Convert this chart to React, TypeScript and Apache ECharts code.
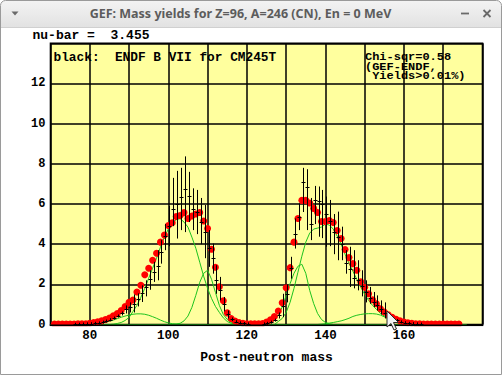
import React, { useEffect, useRef } from "react";
import * as echarts from "echarts";

const windowTitle = "GEF: Mass yields for Z=96, A=246 (CN), En = 0 MeV";
const nuBarText = "nu-bar =  3.455";
const legendText = "black:  ENDF B VII for CM245T";
const chiLines = ["Chi-sqr=0.58", "(GEF-ENDF,", " Yields>0.01%)"];
const xAxisName = "Post-neutron mass";

// GEF calculated post-neutron mass yields (red dots), first mass 71
const gefFirstMass = 71;
const gefYield = [
  0.02, 0.02, 0.02, 0.02, 0.02, 0.02, 0.03, 0.03, 0.04, 0.06,
  0.1, 0.14, 0.18, 0.25, 0.32, 0.43, 0.54, 0.7, 0.9, 1.1,
  1.22, 1.62, 1.95, 2.48, 2.8, 3.2, 3.55, 4.1, 4.45, 4.93,
  5.07, 5.38, 5.43, 5.57, 5.28, 5.4, 5.5, 5.58, 5.15, 4.78,
  3.75, 2.85, 1.88, 1.18, 0.58, 0.3, 0.17, 0.1, 0.06, 0.04,
  0.03, 0.03, 0.03, 0.05, 0.12, 0.23, 0.4, 0.67, 1.08, 1.83,
  2.83, 4.1, 5.28, 6.18, 6.18, 6.05, 5.78, 5.58, 5.13, 5.13,
  5.18, 5.08, 4.68, 4.28, 3.73, 3.33, 3.03, 2.7, 2.13, 1.85,
  1.53, 1.23, 1.03, 0.78, 0.62, 0.48, 0.36, 0.26, 0.18, 0.12,
  0.08, 0.06, 0.04, 0.03, 0.02, 0.02, 0.02, 0.02, 0.02, 0.02,
  0.02, 0.02, 0.02, 0.02,
];

// ENDF/B-VII evaluation (black error bars)
const endfMass = [
  76, 77, 78, 79, 80, 81, 82, 83, 84, 85, 86, 87, 88, 89, 90, 91, 92, 93, 94, 95,
  96, 97, 98, 99, 100, 101, 102, 103, 104, 105, 106, 107, 108, 109, 110, 111, 112, 113, 114, 115,
  116, 117, 118, 119, 120,
  124, 125, 126, 127, 128, 129, 130, 131, 132, 133, 134, 135, 136, 137, 138, 139, 140, 141, 142, 143,
  144, 145, 146, 147, 148, 149, 150, 151, 152, 153, 154, 155, 156, 157, 158, 159, 160, 161, 162, 163, 164,
];
const endfYield = [
  0.01, 0.015, 0.02, 0.03, 0.04, 0.06, 0.08, 0.12, 0.17, 0.24, 0.32, 0.42, 0.55, 0.75, 0.85, 1.0, 1.25, 1.58, 1.85, 2.28,
  2.6, 2.9, 3.6, 4.4, 4.9, 5.73, 6.0, 6.35, 6.73, 6.4, 5.75, 5.6, 5.1, 4.6, 3.8, 3.3, 2.24, 1.7, 1.0, 0.5,
  0.26, 0.14, 0.08, 0.05, 0.03,
  0.03, 0.06, 0.12, 0.22, 0.45, 0.9, 1.5, 2.8, 4.5, 5.35, 7.1, 6.83, 5.0, 6.2, 6.17, 6.0, 5.48, 5.15, 4.6, 4.37,
  4.0, 3.08, 2.75, 2.3, 2.23, 1.9, 1.6, 1.3, 1.1, 0.95, 0.75, 0.55, 0.4, 0.28, 0.2, 0.13, 0.09, 0.06, 0.04, 0.03, 0.02,
];
const endfLow = [
  0.005, 0.01, 0.015, 0.02, 0.03, 0.05, 0.06, 0.1, 0.14, 0.2, 0.27, 0.35, 0.45, 0.55, 0.6, 0.6, 0.9, 1.12, 1.4, 1.73,
  2.12, 2.2, 3.03, 3.7, 3.9, 4.9, 4.28, 4.7, 4.6, 5.1, 4.7, 4.5, 4.0, 3.3, 2.87, 2.53, 1.53, 1.2, 0.65, 0.3,
  0.17, 0.1, 0.06, 0.04, 0.02,
  0.02, 0.05, 0.09, 0.17, 0.3, 0.37, 1.1, 2.28, 3.78, 4.7, 5.6, 4.7, 4.2, 5.0, 4.37, 4.3, 3.87, 3.9, 3.5, 3.2,
  3.2, 2.53, 1.87, 1.8, 1.7, 1.4, 1.1, 1.03, 0.87, 0.7, 0.5, 0.3, 0.28, 0.2, 0.15, 0.1, 0.07, 0.05, 0.03, 0.02, 0.015,
];
const endfHigh = [
  0.015, 0.02, 0.025, 0.04, 0.05, 0.07, 0.1, 0.14, 0.2, 0.28, 0.37, 0.5, 0.65, 0.95, 1.1, 1.5, 1.55, 1.95, 2.2, 2.7,
  3.12, 3.7, 4.2, 5.0, 5.9, 7.3, 7.65, 7.8, 8.37, 7.6, 6.78, 6.7, 6.3, 5.95, 4.7, 4.03, 2.95, 2.37, 1.37, 0.7,
  0.35, 0.18, 0.1, 0.06, 0.04,
  0.04, 0.07, 0.15, 0.27, 0.6, 1.53, 2.0, 3.37, 5.28, 6.03, 7.8, 7.73, 6.3, 6.9, 6.87, 6.7, 6.37, 6.2, 5.5, 5.62,
  4.87, 3.7, 3.87, 3.7, 3.2, 2.7, 2.2, 1.87, 1.62, 1.45, 1.2, 1.1, 0.55, 0.36, 0.25, 0.16, 0.11, 0.07, 0.05, 0.04, 0.025,
];

// GEF fission-mode components (green curves)
const s1LightFirst = 101;
const s1LightYield = [0, 0.02, 0.06, 0.18, 0.42, 0.85, 1.45, 2.1, 2.55, 2.7, 2.25, 1.6, 0.95, 0.5, 0.25, 0.1, 0.03, 0];
const s1HeavyFirst = 124;
const s1HeavyYield = [0, 0.03, 0.08, 0.2, 0.45, 0.87, 1.45, 2.03, 2.55, 2.9, 3.0, 2.55, 1.7, 1.05, 0.55, 0.25, 0.1, 0.04, 0];

const s2LightFirst = 85;
const s2LightYield = [
  0, 0.02, 0.05, 0.1, 0.2, 0.35, 0.65, 0.95, 1.35, 1.8, 2.3, 2.8, 3.3, 3.85, 4.35, 4.75, 5.05, 5.22, 5.27, 5.1,
  4.85, 4.35, 3.8, 3.1, 2.4, 1.8, 1.3, 0.9, 0.6, 0.33, 0.15, 0.06, 0.02, 0,
];
const s2HeavyFirst = 127;
const s2HeavyYield = [
  0, 0.15, 0.3, 0.6, 1.1, 1.8, 2.6, 3.4, 4.1, 4.55, 4.75, 4.8, 4.85, 5.0, 4.95, 4.75, 4.4, 4.0, 3.5, 3.05,
  2.65, 2.25, 1.85, 1.5, 1.2, 0.95, 0.75, 0.55, 0.42, 0.3, 0.2, 0.12, 0.07, 0.04, 0.02, 0,
];

const s3LightFirst = 79;
const s3LightYield = [
  0, 0.01, 0.02, 0.04, 0.07, 0.11, 0.16, 0.22, 0.29, 0.36, 0.42, 0.47, 0.51, 0.53, 0.53, 0.51, 0.46, 0.39, 0.31, 0.22,
  0.14, 0.08, 0.04, 0.02, 0.01, 0,
];
const s3HeavyFirst = 138;
const s3HeavyYield = [
  0, 0.02, 0.04, 0.07, 0.1, 0.14, 0.18, 0.24, 0.31, 0.4, 0.46, 0.5, 0.53, 0.54, 0.54, 0.52, 0.47, 0.38, 0.28, 0.18,
  0.1, 0.05, 0.02, 0.01, 0,
];

const slMass = [70, 118, 121, 123, 125, 128, 176];
const slYield = [0, 0, 0.01, 0.02, 0.01, 0, 0];

// axis ticks
const xMin = 70;
const xMax = 180;
const xStep = 10;
const yMin = 0;
const yMax = 14;
const yStep = 2;

const pairs = (first: number, vals: number[]) => vals.map((v, i) => [first + i, v]);

const MONO = '"Liberation Mono", "DejaVu Sans Mono", monospace';
const GREEN = "#1ec31e";

export default function App() {
  const ref = useRef<HTMLDivElement>(null);
  useEffect(() => {
    if (!ref.current) return;
    const chart = echarts.init(ref.current, null, { renderer: "svg" });
    const greenLine = (name: string, data: number[][]) => ({
      name,
      type: "line",
      data,
      symbol: "none",
      showSymbol: false,
      silent: true,
      z: 2,
      lineStyle: { color: GREEN, width: 1 },
    });
    const endfData = endfMass.map((m, i) => [m, endfLow[i], endfHigh[i], endfYield[i]]);
    const option: any = {
      animation: false,
      backgroundColor: "#ffffff",
      grid: {
        left: 50.5,
        top: 43.3,
        right: 19.5,
        bottom: 50.5,
        show: true,
        backgroundColor: "#ffff9e",
        borderColor: "#000",
        borderWidth: 1.6,
      },
      xAxis: {
        type: "value",
        min: xMin,
        max: xMax,
        interval: xStep,
        name: xAxisName,
        nameLocation: "middle",
        nameGap: 26,
        nameTextStyle: { fontFamily: MONO, fontWeight: "bold", fontSize: 13, color: "#000" },
        axisLine: { show: false },
        axisTick: { show: false },
        axisLabel: {
          margin: 5,
          fontFamily: MONO,
          fontWeight: "bold",
          fontSize: 12.5,
          color: "#000",
          formatter: (v: number) => (v % 20 === 0 && v < xMax ? String(v) : ""),
        },
        splitLine: { show: true, lineStyle: { color: "#000", width: 1.5 } },
      },
      yAxis: {
        type: "value",
        min: yMin,
        max: yMax,
        interval: yStep,
        axisLine: { show: false },
        axisTick: { show: false },
        axisLabel: {
          margin: 5,
          fontFamily: MONO,
          fontWeight: "bold",
          fontSize: 12,
          color: "#000",
          formatter: (v: number) => (v < yMax ? String(v) : ""),
        },
        splitLine: { show: true, lineStyle: { color: "#000", width: 1.5 } },
      },
      series: [
        greenLine("SL", slMass.map((m, i) => [m, slYield[i]])),
        greenLine("S3", [...pairs(s3LightFirst, s3LightYield), ...pairs(s3HeavyFirst, s3HeavyYield)]),
        greenLine("S1", [...pairs(s1LightFirst, s1LightYield), ...pairs(s1HeavyFirst, s1HeavyYield)]),
        greenLine("S2", [...pairs(s2LightFirst, s2LightYield), ...pairs(s2HeavyFirst, s2HeavyYield)]),
        {
          name: "GEF",
          type: "scatter",
          data: pairs(gefFirstMass, gefYield),
          symbol: "circle",
          symbolSize: 7,
          silent: true,
          z: 3,
          itemStyle: { color: "#ff0000", opacity: 1 },
        },
        {
          name: "ENDF",
          type: "custom",
          data: endfData,
          silent: true,
          z: 4,
          encode: { x: 0, y: [1, 2, 3] },
          renderItem: (params: any, api: any) => {
            const x = api.value(0);
            const pLo = api.coord([x, api.value(1)]);
            const pHi = api.coord([x, api.value(2)]);
            const pV = api.coord([x, api.value(3)]);
            const cx = Math.round(pV[0]) + 1.5;
            const top = Math.min(pHi[1], pV[1] - 1.5);
            const bot = Math.max(pLo[1], pV[1] + 1.5);
            return {
              type: "group",
              children: [
                { type: "line", shape: { x1: cx, y1: top, x2: cx, y2: bot }, style: { stroke: "#000", lineWidth: 1 } },
                {
                  type: "line",
                  shape: { x1: cx - 2, y1: Math.round(pV[1]) + 0.5, x2: cx + 2, y2: Math.round(pV[1]) + 0.5 },
                  style: { stroke: "#000", lineWidth: 1 },
                },
              ],
            };
          },
        },
      ],
      graphic: [
        // window frame
        {
          type: "rect",
          shape: { x: 0.5, y: 0.5, width: 501, height: 374, r: [5, 5, 0, 0] },
          style: { fill: "none", stroke: "#9a9a9a", lineWidth: 1 },
          z: 50,
          silent: true,
        },
        {
          type: "rect",
          shape: { x: 1, y: 1, width: 500, height: 26, r: [4, 4, 0, 0] },
          style: {
            fill: new echarts.graphic.LinearGradient(0, 0, 0, 1, [
              { offset: 0, color: "#f3f3f3" },
              { offset: 1, color: "#e2e2e2" },
            ]),
          },
          z: 40,
          silent: true,
        },
        {
          type: "line",
          shape: { x1: 1, y1: 27.5, x2: 501, y2: 27.5 },
          style: { stroke: "#d0d0d0", lineWidth: 1 },
          z: 41,
          silent: true,
        },
        {
          type: "text",
          x: 240.5,
          y: 13.5,
          style: {
            text: windowTitle,
            font: 'bold 12.5px "Noto Sans", sans-serif',
            fill: "#5c5c5c",
            textAlign: "center",
            textVerticalAlign: "middle",
            align: "center",
            verticalAlign: "middle",
          },
          z: 45,
          silent: true,
        },
        {
          type: "polygon",
          shape: { points: [[11.5, 11.5], [18.5, 11.5], [15, 15.5]] },
          style: { fill: "#6a6a6a" },
          z: 45,
          silent: true,
        },
        {
          type: "line",
          shape: { x1: 461, y1: 13.5, x2: 469, y2: 13.5 },
          style: { stroke: "#6a6a6a", lineWidth: 1.8 },
          z: 45,
          silent: true,
        },
        {
          type: "line",
          shape: { x1: 483.5, y1: 10, x2: 490.5, y2: 17 },
          style: { stroke: "#6a6a6a", lineWidth: 1.8 },
          z: 45,
          silent: true,
        },
        {
          type: "line",
          shape: { x1: 490.5, y1: 10, x2: 483.5, y2: 17 },
          style: { stroke: "#6a6a6a", lineWidth: 1.8 },
          z: 45,
          silent: true,
        },
        // texts
        {
          type: "text",
          x: 32.5,
          y: 35,
          style: {
            text: nuBarText,
            font: `bold 13px ${MONO}`,
            fill: "#000",
            textVerticalAlign: "middle",
            verticalAlign: "middle",
          },
          z: 45,
          silent: true,
        },
        {
          type: "text",
          x: 53.5,
          y: 57.5,
          style: {
            text: legendText,
            font: `bold 12.8px ${MONO}`,
            fill: "#000",
            textVerticalAlign: "middle",
            verticalAlign: "middle",
          },
          z: 45,
          silent: true,
        },
        ...chiLines.map((t, i) => ({
          type: "text",
          x: 365,
          y: 57.5 + i * 9.3,
          scaleX: 1.14,
          style: {
            text: t,
            font: `bold 10.5px ${MONO}`,
            fill: "#000",
            textVerticalAlign: "middle",
            verticalAlign: "middle",
          },
          z: 45 + i,
          silent: true,
        })),
        // bottom clipping of the plot frame
        {
          type: "rect",
          shape: { x: 49.7, y: 324.6, width: 433.6, height: 1.6 },
          style: { fill: "#000" },
          z: 100,
          silent: true,
        },
        {
          type: "rect",
          shape: { x: 45, y: 326.2, width: 442, height: 3.5 },
          style: { fill: "#fff" },
          z: 100,
          silent: true,
        },
        // mouse pointer
        {
          type: "polygon",
          x: 387,
          y: 311,
          shape: {
            points: [[0, 0], [0, 16], [4, 12.5], [7, 19], [9.5, 18], [6.5, 11.5], [11.5, 11.5]],
          },
          style: { fill: "#f2f2f2", stroke: "#2a2a2a", lineWidth: 1 },
          z: 200,
          silent: true,
        },
      ],
    };
    chart.setOption(option);
    return () => chart.dispose();
  }, []);
  return (
    <div
      ref={ref}
      style={{ position: "fixed", left: 0, top: 0, width: 502, height: 375, background: "#fff" }}
    />
  );
}
